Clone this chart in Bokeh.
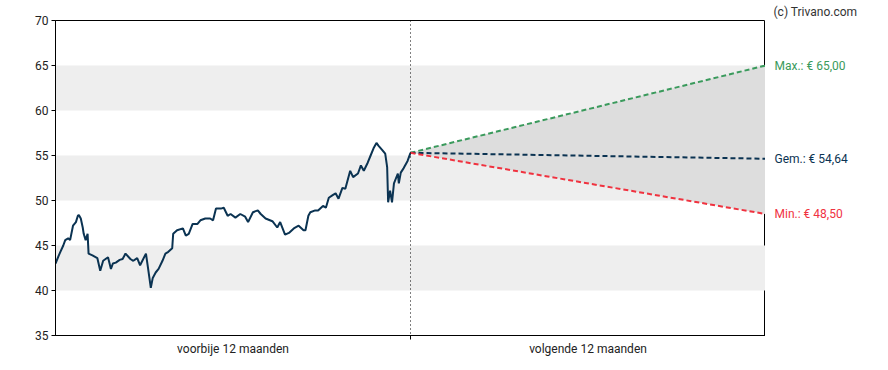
from bokeh.plotting import figure
from bokeh.layouts import row
from bokeh.models import Range1d, FixedTicker, BoxAnnotation, Span, ColumnDataSource
from bokeh.core.properties import value
from bokeh.embed import file_html
from bokeh.resources import INLINE

# past 12 months: day offset relative to today, closing price
past_days = [-365, -362, -360, -357, -355, -352, -350, -347, -344, -342, -341, -339, -337, -336,
             -334, -332, -331, -327, -322, -319, -316, -311, -308, -306, -303, -299, -296, -293,
             -288, -285, -281, -278, -272, -270, -267, -265, -262, -259, -255, -252, -249, -245,
             -244, -240, -234, -231, -228, -224, -219, -216, -211, -206, -203, -200, -195, -192,
             -188, -185, -180, -175, -170, -167, -162, -157, -154, -149, -142, -137, -134, -129,
             -125, -120, -115, -110, -108, -105, -103, -98, -95, -90, -87, -84, -80, -77, -74,
             -70, -67, -62, -59, -54, -51, -48, -44, -41, -38, -35, -33, -29, -26, -24, -23,
             -21, -19, -17, -13, -12, -10, -7, -3, 0]
past_prices = [43.0, 43.8, 44.3, 45.0, 45.6, 45.8, 45.6, 47.2, 47.6, 48.3, 48.4, 48.0, 47.0, 46.3,
               45.6, 46.3, 44.1, 43.9, 43.6, 42.2, 43.3, 43.7, 42.4, 43.0, 43.1, 43.4, 43.5, 44.1,
               43.5, 43.3, 43.6, 42.8, 44.1, 42.6, 40.3, 41.4, 42.0, 42.4, 43.3, 44.1, 44.3, 44.7,
               46.3, 46.7, 46.9, 46.1, 46.3, 47.4, 47.4, 47.8, 48.0, 48.0, 47.8, 49.1, 49.1, 49.2,
               48.3, 48.5, 48.1, 48.5, 48.2, 47.6, 48.7, 48.9, 48.5, 48.0, 47.7, 47.0, 47.6, 46.2,
               46.4, 46.9, 47.2, 46.7, 46.7, 48.3, 48.7, 48.9, 48.9, 49.4, 49.2, 50.3, 50.6, 50.8,
               50.2, 51.4, 51.3, 53.3, 52.6, 53.0, 53.9, 53.3, 54.2, 55.0, 55.8, 56.4, 56.1, 55.6,
               55.2, 53.7, 49.8, 51.1, 49.8, 51.9, 53.0, 51.9, 53.1, 53.6, 54.4, 55.3]

# forecast for next 12 months
forecast_days = [0, 365]
last_price = 55.3
target_max = 65.00
target_avg = 54.64
target_min = 48.50

forecast_labels = ["Max.: € 65,00", "Gem.: € 54,64", "Min.: € 48,50"]
period_labels = ["voorbije 12 maanden", "volgende 12 maanden"]
credit = "(c) Trivano.com"
y_ticks = [35, 40, 45, 50, 55, 60, 65, 70]
band_bottoms = [40, 50, 60]

FONT = "Roboto"
NAVY = "#0b3352"
GREEN = "#3a9a5c"
RED = "#f0323f"

H = 362
TOP = 20
BOTTOM = 27

yr = Range1d(35, 70)

p = figure(width=765, height=H, output_backend="svg", toolbar_location=None,
           x_range=Range1d(-365, 365), y_range=yr,
           min_border_left=55, min_border_right=0, min_border_top=TOP, min_border_bottom=BOTTOM)
p.xgrid.visible = False
p.ygrid.visible = False
p.outline_line_color = "black"
p.outline_line_width = 1
p.background_fill_color = "white"
p.border_fill_color = "white"

for b in band_bottoms:
    p.add_layout(BoxAnnotation(bottom=b, top=b + 5, fill_color="#eeeeee", fill_alpha=1,
                               line_alpha=0, level="underlay"))

# forecast range area
p.varea(x=forecast_days, y1=[last_price, target_min], y2=[last_price, target_max],
        fill_color="#dddddd", fill_alpha=1)

p.add_layout(Span(location=0, dimension="height", line_color="black", line_width=1,
                  line_dash="1 3"))

p.line(past_days, past_prices, line_color=NAVY, line_width=2)

p.line(forecast_days, [last_price, target_max], line_color=GREEN, line_width=2, line_dash="5 3")
p.line(forecast_days, [last_price, target_avg], line_color=NAVY, line_width=2, line_dash="5 3")
p.line(forecast_days, [last_price, target_min], line_color=RED, line_width=2, line_dash="5 3")

# axes
p.yaxis.ticker = FixedTicker(ticks=y_ticks)
p.yaxis.minor_tick_line_color = None
p.yaxis.major_tick_out = 4
p.yaxis.major_tick_in = 0
p.yaxis.axis_line_color = "black"
p.yaxis.major_tick_line_color = "black"
p.yaxis.major_label_text_font = FONT
p.yaxis.major_label_text_font_size = "12px"
p.yaxis.major_label_text_color = "#222222"
p.yaxis.major_label_standoff = 3

p.xaxis.ticker = FixedTicker(ticks=[-182.5, 182.5], minor_ticks=[0])
p.xaxis.major_label_overrides = {-182.5: period_labels[0], 182.5: period_labels[1]}
p.xaxis.major_tick_out = 0
p.xaxis.major_tick_in = 0
p.xaxis.minor_tick_out = 4
p.xaxis.minor_tick_in = 0
p.xaxis.minor_tick_line_color = "black"
p.xaxis.axis_line_color = "black"
p.xaxis.major_label_text_font = FONT
p.xaxis.major_label_text_font_size = "12px"
p.xaxis.major_label_text_color = "#222222"
p.xaxis.major_label_standoff = 2

# side panel with the forecast labels; its frame is aligned with the main frame
side = figure(width=107, height=H, output_backend="svg", toolbar_location=None,
              x_range=Range1d(0, 1), y_range=yr,
              x_axis_location=None, y_axis_location=None,
              min_border_left=0, min_border_right=0, min_border_top=TOP, min_border_bottom=BOTTOM)
side.xgrid.visible = False
side.ygrid.visible = False
side.outline_line_color = None
side.background_fill_color = "white"
side.border_fill_color = "white"
side.title.text = credit
side.title.align = "left"
side.title.offset = 8
side.title.standoff = 4
side.title.text_font = FONT
side.title.text_font_size = "12px"
side.title.text_font_style = "normal"
side.title.text_color = "#333333"

src = ColumnDataSource(dict(x=[0, 0, 0], y=[target_max, target_avg, target_min],
                            text=forecast_labels, color=[GREEN, NAVY, RED]))
side.text(x="x", y="y", text="text", text_color="color", source=src, x_offset=9,
          text_font=value(FONT), text_font_size=value("12px"), text_baseline="middle",
          text_align="left")

layout = row(p, side, spacing=0)
open("out.html", "w").write(file_html(layout, INLINE))
